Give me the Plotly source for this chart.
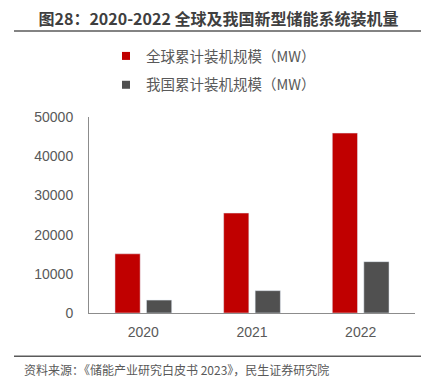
import plotly.graph_objects as go

# ---- data ----
years = ["2020", "2021", "2022"]
global_mw = [15100, 25500, 45900]
china_mw = [3300, 5700, 13100]
series_names = ["全球累计装机规模（MW）", "我国累计装机规模（MW）"]
y_ticks = [0, 10000, 20000, 30000, 40000, 50000]
title_text = "图28：2020-2022 全球及我国新型储能系统装机量"
source_text = "资料来源：《储能产业研究白皮书 2023》，民生证券研究院"

W, H = 437, 382
L, R = 89, 415      # plot area px
T, B = 116.5, 312.7

RED = "#C00000"
GRAY = "#505050"
TXT = "#595959"
AXIS = "#8C8C8C"
CJK = "Noto Sans CJK SC"
NUM = "Liberation Sans, Noto Sans CJK SC"


def px_x(px):
    return (px - L) / (R - L)


def px_y(py):
    return (B - py) / (B - T)


fig = go.Figure()
fig.add_trace(go.Bar(x=years, y=global_mw, marker_color=RED, showlegend=False))
fig.add_trace(go.Bar(x=years, y=china_mw, marker_color=GRAY, showlegend=False))

# legend proxies with small square symbols
for name, col, grp in [(series_names[0], RED, "a"), (series_names[1], GRAY, "b")]:
    fig.add_trace(go.Scatter(x=[None], y=[None], mode="markers", name=name,
                             legendgroup=grp,
                             marker=dict(symbol="square", size=8, color=col)))

for py in (30.5, 356):
    fig.add_shape(type="line", xref="paper", yref="paper", layer="above",
                  x0=px_x(14), x1=px_x(421), y0=px_y(py), y1=px_y(py),
                  line=dict(color="#5A5A5A", width=1.5))

fig.update_layout(
    width=W, height=H,
    margin=dict(l=L, r=W - R, t=T, b=H - B, pad=0, autoexpand=False),
    paper_bgcolor="white", plot_bgcolor="white",
    barmode="group", bargap=0.42, bargroupgap=0.2,
    title=dict(text="<b>" + title_text + "</b>", x=0.5, xanchor="center",
               xref="container", yref="container",
               y=1 - 19.5 / H, yanchor="middle",
               font=dict(family=CJK, size=16, color="#3F3F3F")),
    legend=dict(xref="container", yref="container",
                x=(106) / W, xanchor="left",
                y=1 - 40 / H, yanchor="top",
                traceorder="grouped", tracegroupgap=7,
                font=dict(family=CJK, size=14.5, color=TXT),
                bgcolor="rgba(0,0,0,0)"),
    xaxis=dict(showline=True, linecolor=AXIS, linewidth=1, ticks="",
               showgrid=False, ticklabelstandoff=6, automargin=False,
               tickfont=dict(family=NUM, size=14, color=TXT)),
    yaxis=dict(range=[0, 50000], tickvals=y_ticks,
               ticktext=[str(v) for v in y_ticks], automargin=False,
               showline=True, linecolor=AXIS, linewidth=1, ticks="",
               showgrid=False, zeroline=False, ticklabelstandoff=12,
               tickfont=dict(family=NUM, size=14, color=TXT)),
    annotations=[dict(text=source_text, xref="paper", yref="paper",
                      x=px_x(22), y=px_y(369), xanchor="left", yanchor="middle",
                      showarrow=False,
                      font=dict(family=CJK, size=12, color=TXT))],
)

fig.write_html("out.html", config={"displayModeBar": False},
               post_script="document.body.style.margin='0';document.body.style.overflow='hidden';")
